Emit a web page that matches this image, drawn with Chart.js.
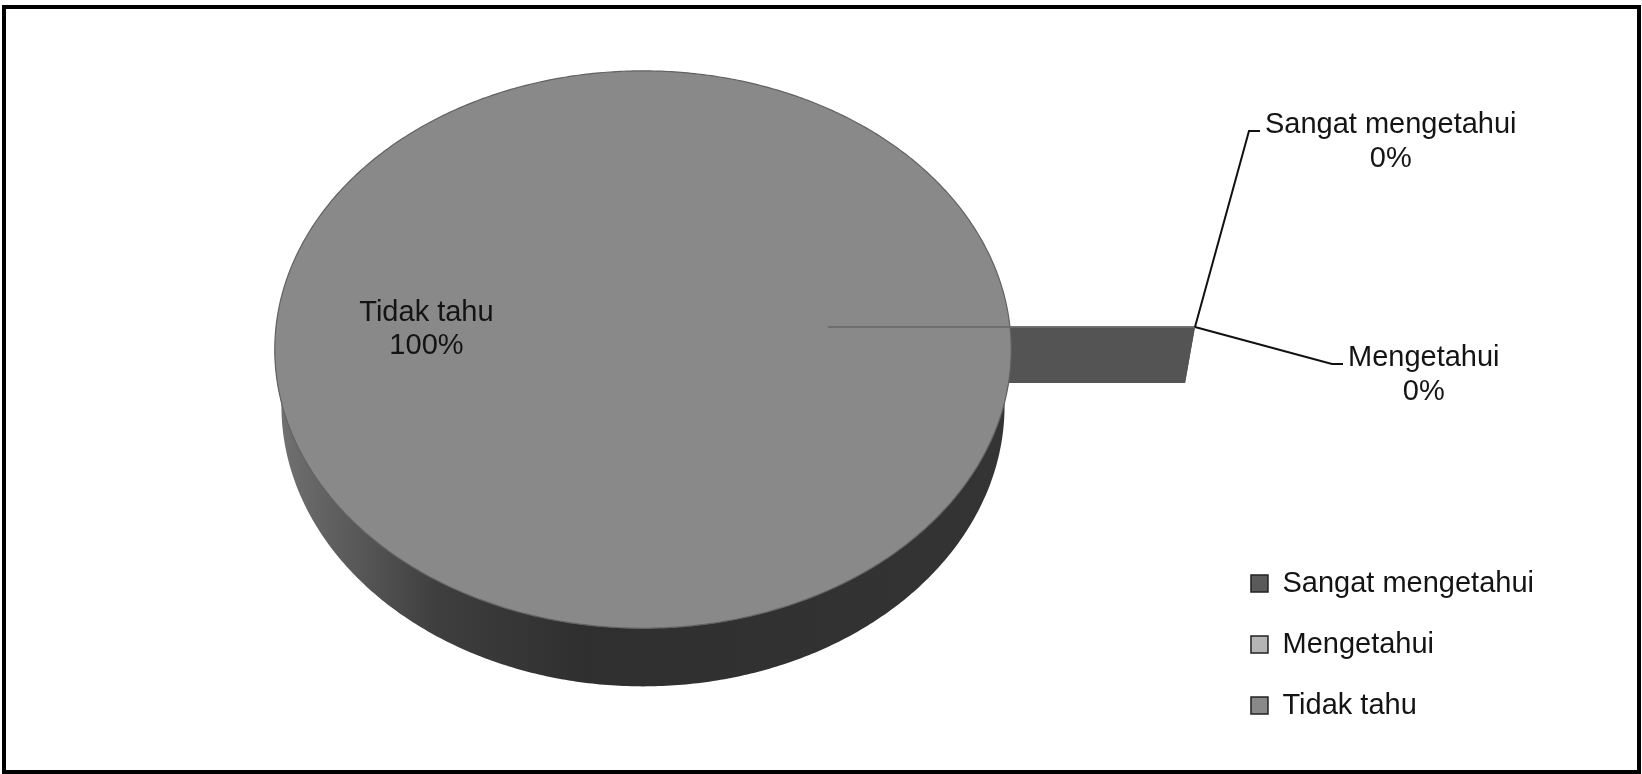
<!DOCTYPE html>
<html>
<head>
<meta charset="utf-8">
<script src="https://cdn.jsdelivr.net/npm/chart.js@4.4.0/dist/chart.umd.min.js"></script>
<style>
    html, body { margin: 0; padding: 0; background: #fff; }
</style>
</head>
<body>
<canvas id="myChart" width="1642" height="774"></canvas>
<script>
var categories = ['Sangat mengetahui', 'Mengetahui', 'Tidak tahu'];
var percentages = [0, 0, 100];

var FONT = '"Liberation Sans", Arial, sans-serif';

// 3d look: perspective, squash of the top face, wall height
var P = 0.081;
var TILT = 0.7544;
var DEPTH = 56;
var BOTTOM_SX = 0.982;
var BOTTOM_SY = 1.007;

function project(cx, cy, px, py, R) {
    var w = 1 / (1 - P * py / R);
    return { x: cx + px * w, y: cy + py * TILT * w };
}

function toBottom(cx, cy, pt) {
    return { x: cx + (pt.x - cx) * BOTTOM_SX, y: cy + (pt.y - cy) * BOTTOM_SY + DEPTH };
}

function arcPoints(cx, cy, ox, oy, R, a0, a1) {
    var pts = [];
    var n = Math.max(2, Math.ceil(Math.abs(a1 - a0) / 0.01));
    for (var i = 0; i <= n; i++) {
        var a = a0 + (a1 - a0) * i / n;
        pts.push(project(cx, cy, ox + R * Math.cos(a), oy + R * Math.sin(a), R));
    }
    return pts;
}

var pie3d = {
    id: 'pie3d',
    beforeDatasetDraw: function (chart, args) {
        var ctx = chart.ctx;
        var arcs = args.meta.data;
        var t0 = Math.asin(P);

        ctx.save();
        // faces of the exploded (0%) slices
        arcs.forEach(function (arc) {
            var off = arc.options.offset || 0;
            if (!off || arc.circumference > 0) return;
            var cx = arc.x, cy = arc.y, R = arc.outerRadius, a = arc.startAngle;
            var A = project(cx, cy, off * Math.cos(a), off * Math.sin(a), R);
            var B = project(cx, cy, (off + R) * Math.cos(a), (off + R) * Math.sin(a), R);
            var Ab = toBottom(cx, cy, A), Bb = toBottom(cx, cy, B);
            ctx.beginPath();
            ctx.moveTo(A.x, A.y);
            ctx.lineTo(B.x, B.y);
            ctx.lineTo(Bb.x, Bb.y);
            ctx.lineTo(Ab.x, Ab.y);
            ctx.closePath();
            ctx.fillStyle = '#545454';
            ctx.fill();
        });

        // side walls
        arcs.forEach(function (arc) {
            if (arc.circumference <= 0) return;
            var cx = arc.x, cy = arc.y, R = arc.outerRadius;
            var off = arc.options.offset || 0;
            var mid = (arc.startAngle + arc.endAngle) / 2;
            var ox = off * Math.cos(mid), oy = off * Math.sin(mid);
            for (var k = -1; k <= 1; k++) {
                var a0 = Math.max(arc.startAngle, t0 + k * 2 * Math.PI);
                var a1 = Math.min(arc.endAngle, Math.PI - t0 + k * 2 * Math.PI);
                if (a1 <= a0) continue;
                var top = arcPoints(cx, cy, ox, oy, R, a0, a1);
                var grad = ctx.createLinearGradient(cx - R, 0, cx + R, 0);
                grad.addColorStop(0, '#727272');
                grad.addColorStop(0.22, '#3e3e3e');
                grad.addColorStop(0.42, '#2f2f2f');
                grad.addColorStop(1, '#343434');
                ctx.beginPath();
                top.forEach(function (p, i) { i ? ctx.lineTo(p.x, p.y) : ctx.moveTo(p.x, p.y); });
                for (var j = top.length - 1; j >= 0; j--) {
                    var b = toBottom(cx, cy, top[j]);
                    ctx.lineTo(b.x, b.y);
                }
                ctx.closePath();
                ctx.fillStyle = grad;
                ctx.fill();
            }
        });

        // top faces
        arcs.forEach(function (arc) {
            if (arc.circumference <= 0) return;
            var cx = arc.x, cy = arc.y, R = arc.outerRadius;
            var off = arc.options.offset || 0;
            var mid = (arc.startAngle + arc.endAngle) / 2;
            var ox = off * Math.cos(mid), oy = off * Math.sin(mid);
            var full = arc.circumference >= 2 * Math.PI - 1e-6;
            var pts = arcPoints(cx, cy, ox, oy, R, arc.startAngle, arc.endAngle);
            ctx.beginPath();
            pts.forEach(function (p, i) { i ? ctx.lineTo(p.x, p.y) : ctx.moveTo(p.x, p.y); });
            if (!full) {
                var c = project(cx, cy, ox, oy, R);
                ctx.lineTo(c.x, c.y);
            }
            ctx.closePath();
            ctx.fillStyle = arc.options.backgroundColor;
            ctx.fill();
            ctx.strokeStyle = '#626262';
            ctx.lineWidth = 1.2;
            ctx.stroke();
        });

        // top edges of the exploded (0%) slices
        arcs.forEach(function (arc) {
            var off = arc.options.offset || 0;
            if (!off || arc.circumference > 0) return;
            var cx = arc.x, cy = arc.y, R = arc.outerRadius, a = arc.startAngle;
            var A = project(cx, cy, off * Math.cos(a), off * Math.sin(a), R);
            var B = project(cx, cy, (off + R) * Math.cos(a), (off + R) * Math.sin(a), R);
            ctx.beginPath();
            ctx.moveTo(A.x, A.y);
            ctx.lineTo(B.x, B.y);
            ctx.strokeStyle = '#6c6c6c';
            ctx.lineWidth = 1.5;
            ctx.stroke();
        });
        ctx.restore();
        return false;
    },
    afterDatasetsDraw: function (chart, args, opts) {
        var ctx = chart.ctx;
        var meta = chart.getDatasetMeta(0);
        var data = chart.data.datasets[0].data;
        var total = data.reduce(function (s, v) { return s + v; }, 0);
        ctx.save();
        ctx.font = '29px ' + FONT;
        ctx.fillStyle = '#141414';
        ctx.textBaseline = 'middle';
        var leaderIdx = 0;
        meta.data.forEach(function (arc, i) {
            var lines = [chart.data.labels[i], Math.round(data[i] / total * 100) + '%'];
            var cx = arc.x, cy = arc.y, R = arc.outerRadius;
            if (arc.circumference > 0) {
                var mid = (arc.startAngle + arc.endAngle) / 2;
                var p = project(cx, cy, 0.59 * R * Math.cos(mid), 0.59 * R * Math.sin(mid), R);
                ctx.textAlign = 'center';
                ctx.fillText(lines[0], p.x, p.y - 14);
                ctx.fillText(lines[1], p.x, p.y + 19);
                return;
            }
            var off = arc.options.offset || 0, a = arc.startAngle;
            var tip = project(cx, cy, (off + R) * Math.cos(a), (off + R) * Math.sin(a), R);
            var ld = opts.leaders[leaderIdx++];
            var ex = tip.x + ld.dx, ey = tip.y + ld.dy;
            ctx.beginPath();
            ctx.moveTo(tip.x, tip.y);
            ctx.lineTo(ex, ey);
            ctx.lineTo(ex + 11, ey);
            ctx.strokeStyle = '#111';
            ctx.lineWidth = 2;
            ctx.stroke();
            var w = Math.max(ctx.measureText(lines[0]).width, ctx.measureText(lines[1]).width);
            var tx = ex + 16 + w / 2;
            ctx.textAlign = 'center';
            ctx.fillText(lines[0], tx, ey - 6);
            ctx.fillText(lines[1], tx, ey + 28);
        });
        ctx.restore();
    },
    afterDraw: function (chart) {
        var ctx = chart.ctx;
        ctx.save();
        ctx.strokeStyle = '#000';
        ctx.lineWidth = 4;
        ctx.strokeRect(4, 7, 1635, 765);
        ctx.restore();
    }
};

var myChart = new Chart(document.getElementById('myChart'), {
    type: 'pie',
    data: {
        labels: categories,
        datasets: [{
            data: percentages,
            backgroundColor: ['#5a5a5a', '#b4b4b4', '#898989'],
            borderWidth: 0,
            offset: [185, 185, 0],
            radius: 367,
            rotation: 90
        }]
    },
    options: {
        responsive: false,
        animation: false,
        layout: { padding: { left: 67, right: 98, top: 0, bottom: 22 } },
        plugins: {
            pie3d: {
                leaders: [{ dx: 54, dy: -196 }, { dx: 137, dy: 37 }]
            },
            title: {
                display: true,
                text: '',
                position: 'bottom',
                fullSize: false,
                font: { size: 10 },
                padding: { top: 0, bottom: 86 }
            },
            legend: {
                position: 'right',
                align: 'end',
                labels: {
                    boxWidth: 17,
                    boxHeight: 17,
                    padding: 32,
                    color: '#141414',
                    font: { size: 29, family: FONT },
                    generateLabels: function (chart) {
                        var items = Chart.overrides.pie.plugins.legend.labels.generateLabels(chart);
                        items.forEach(function (it) {
                            it.strokeStyle = '#222';
                            it.lineWidth = 1.5;
                        });
                        return items;
                    }
                }
            },
            tooltip: { enabled: false }
        }
    },
    plugins: [pie3d]
});
</script>
</body>
</html>
